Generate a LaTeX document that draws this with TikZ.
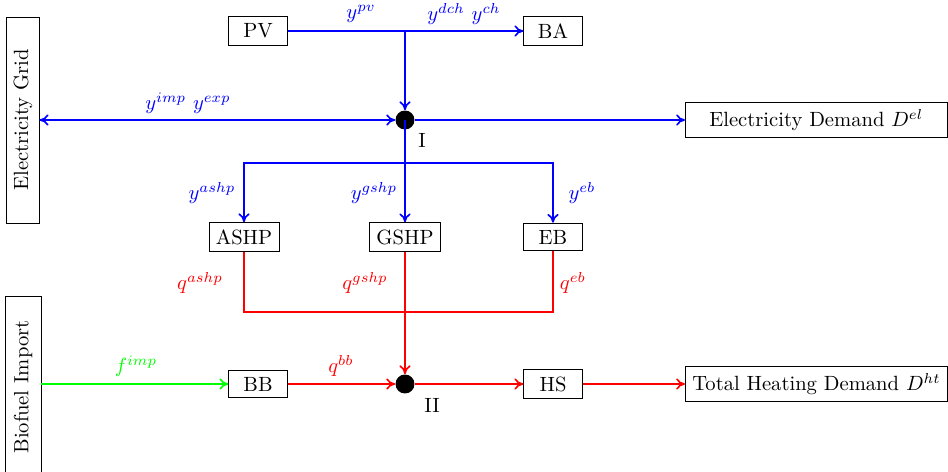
\documentclass[tikz,border=0pt]{standalone}
\usetikzlibrary{arrows.meta}
\begin{document}
\begin{tikzpicture}[x=0.4854pt,y=-0.4854pt,
  box/.style={draw,minimum width=1cm,inner sep=0.333em},
  bigbox/.style={draw,minimum width=127pt,inner sep=0.333em,anchor=west},
  junction/.style={circle,fill=black,minimum size=9.2pt,inner sep=0pt},
  bl/.style={draw=blue,thick},
  rd/.style={draw=red,thick},
  gr/.style={draw=green,thick},
  lbl/.style={inner sep=1pt},
  >={To[length=4.3pt,width=5.5pt]}]
\useasboundingbox (0,0) rectangle (948,471);
% nodes
\node[box] (PV) at (258,31) {PV};
\node[box] (BA) at (553,31) {BA};
\node[junction] (I) at (405,120) {};
\node[anchor=north west,inner sep=0pt] (LI) at (418,133) {I};
\node[draw,rotate=90,minimum width=100pt,minimum height=15.5pt,inner sep=0.333em] (EG) at (23,120) {Electricity Grid};
\node[bigbox] (ED) at (685,120) {Electricity Demand $D^{el}$};
\node[box] (ASHP) at (244,237) {ASHP};
\node[box] (GSHP) at (405,237) {GSHP};
\node[box] (EB) at (553,237) {EB};
\node[draw,rotate=90,minimum width=88pt,minimum height=17.5pt,inner sep=0.333em] (BI) at (23,387) {Biofuel Import};
\node[box] (BB) at (258,384) {BB};
\node[junction] (II) at (405,384) {};
\node[anchor=north west,inner sep=0pt] (LII) at (424,398) {II};
\node[box] (HS) at (553,384) {HS};
\node[bigbox] (TH) at (685,384) {Total Heating Demand $D^{ht}$};
% coordinates
\coordinate (J1) at (405,31);
\coordinate (J2) at (405,163);
\coordinate (J3) at (553,312);
% blue connectors
\draw[bl,->] (PV.east) -- (BA.west);
\draw[bl,->] (J1) -- (I.north);
\draw[bl,<->] (EG.south |- I) -- (I.west);
\draw[bl,->] (I.east) -- (ED.west);
\draw[bl,->] (I.center) -- (GSHP.north);
\draw[bl,->] (J2) -| (ASHP.north);
\draw[bl,->] (J2) -| (EB.north);
% red connectors
\draw[rd] (ASHP.south) |- (J3) -- (EB.south);
\draw[rd,->] (GSHP.south) -- (II.north);
\draw[rd,->] (BB) -- (II);
\draw[rd,->] (II) -- (HS);
\draw[rd,->] (HS) -- (TH);
% green connector
\draw[gr,->] (BI.south |- BB) -- (BB.west);
% labels
\node[lbl,blue] (lpv) at (361,14) {$y^{pv}$};
\node[lbl,blue] (ldch) at (464,14) {$y^{dch}$ $y^{ch}$};
\node[lbl,blue] (limp) at (188,103) {$y^{imp}$ $y^{exp}$};
\node[lbl,blue] (lashp) at (212,193) {$y^{ashp}$};
\node[lbl,blue] (lgshp) at (374,193) {$y^{gshp}$};
\node[lbl,blue] (leb) at (582,193) {$y^{eb}$};
\node[lbl,red] (lqashp) at (200,283) {$q^{ashp}$};
\node[lbl,red] (lqgshp) at (365,283) {$q^{gshp}$};
\node[lbl,red] (lqeb) at (573,283) {$q^{eb}$};
\node[lbl,red] (lqbb) at (341,366) {$q^{bb}$};
\node[lbl,green] (lf) at (136,366) {$f^{imp}$};
\end{tikzpicture}
\end{document}
